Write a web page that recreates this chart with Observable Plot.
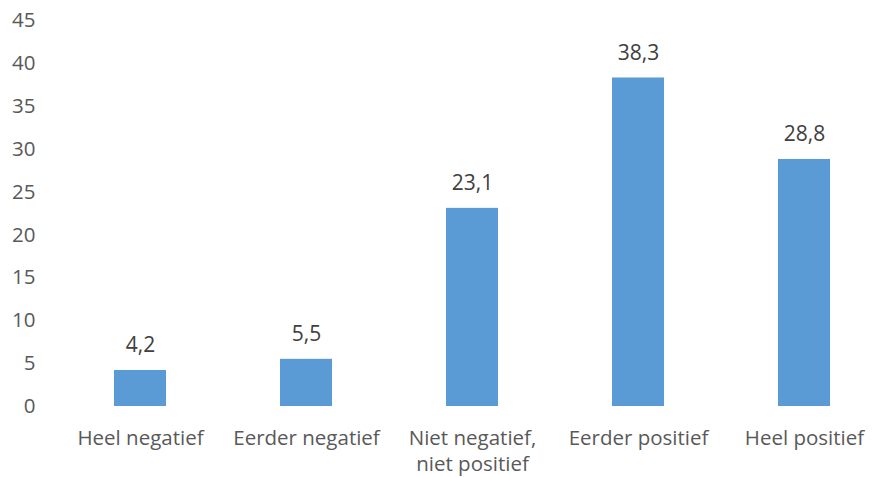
<!DOCTYPE html>
<html>
<head>
<meta charset="utf-8">
<script src="https://cdn.jsdelivr.net/npm/d3@7"></script>
<script src="https://cdn.jsdelivr.net/npm/@observablehq/plot@0.6"></script>
<style>
  html, body { margin: 0; padding: 0; background: #fff; }
  #chart { width: 876px; height: 477px; }
  #chart g[aria-label="y-axis tick label"] { font-size: 20.5px; }
</style>
</head>
<body>
<div id="chart"></div>
<script>
const categories = ["Heel negatief", "Eerder negatief", "Niet negatief,\nniet positief", "Eerder positief", "Heel positief"];
const values = [4.2, 5.5, 23.1, 38.3, 28.8];
const yTicks = [0, 5, 10, 15, 20, 25, 30, 35, 40, 45];

const data = categories.map((c, i) => ({category: c, value: values[i]}));
const fmt = v => v.toFixed(1).replace(".", ",");

const chart = Plot.plot({
  width: 876,
  height: 477,
  marginTop: 20,
  marginBottom: 71,
  marginLeft: 57,
  marginRight: 0,
  style: {fontFamily: "Open Sans, Noto Sans, sans-serif", fontSize: "20px", color: "#595959", background: "#fff"},
  x: {domain: categories, range: [57, 887], paddingInner: 0.687, paddingOuter: 0.3435, align: 0.5, label: null},
  y: {domain: [0, 45], range: [406, 20], ticks: yTicks, label: null},
  marks: [
    Plot.axisY({ticks: yTicks, tickSize: 0, tickPadding: 22, fill: "#595959", fontSize: 20.5, label: null}),
    Plot.axisX({tickSize: 0, tickPadding: 20, fill: "#595959", fontSize: 20.5, lineHeight: 1.27, label: null}),
    Plot.barY(data, {x: "category", y: "value", fill: "#5B9BD5"}),
    Plot.ruleY([0], {stroke: "#D9D9D9", strokeWidth: 1.5, x1: 57, x2: 876}),
    Plot.text(data, {x: "category", y: "value", text: d => fmt(d.value), dy: -25, fill: "#404040", fontSize: 21})
  ]
});
document.getElementById("chart").appendChild(chart);
</script>
</body>
</html>
